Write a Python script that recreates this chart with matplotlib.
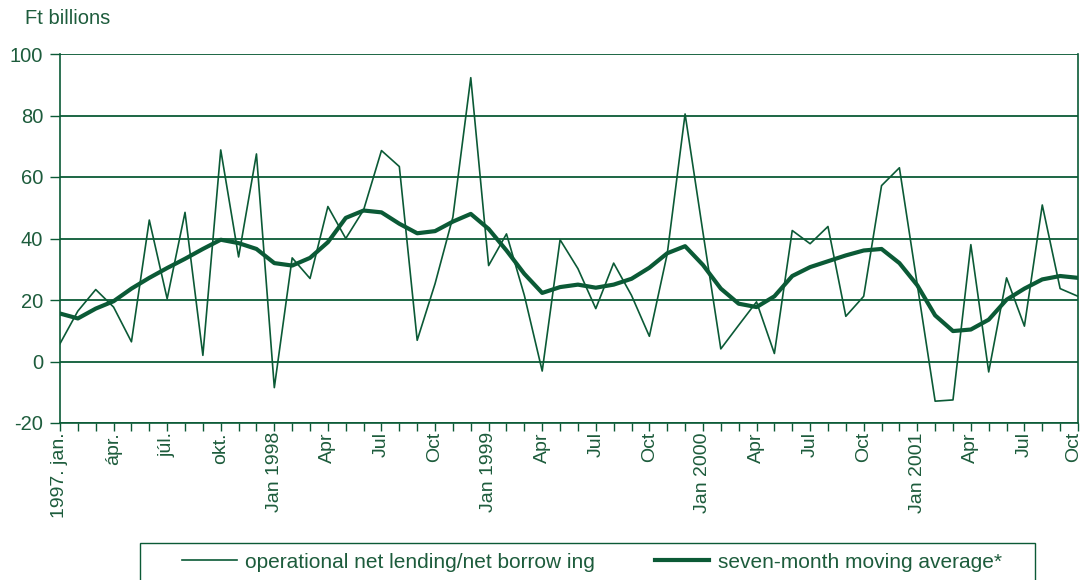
import numpy as np
import matplotlib
matplotlib.use('Agg')
import matplotlib.pyplot as plt
import matplotlib.transforms as mtransforms
from matplotlib.patches import Rectangle
from matplotlib.ticker import MultipleLocator

GREEN = '#0b5a36'
TEXT = '#1d5c3c'

# monthly values, 1997 jan - 2001 oct (Ft billions)
net_lending = [5.8, 16.4, 23.4, 17.7, 6.4, 46, 20.4, 48.5, 2, 68.8,
               34, 67.5, -8.5, 33.7, 27, 50.4, 40, 49.3, 68.6, 63.4,
               6.9, 25.3, 47, 92.3, 31.2, 41.5, 21.5, -3.1, 39.6, 30.2,
               17.2, 32, 21.5, 8.2, 35, 80.5, 42, 4.1, 11.8, 19.4,
               2.6, 42.6, 38.3, 43.9, 14.7, 21.2, 57.2, 63, 25, -12.9,
               -12.5, 38, -3.4, 27.2, 11.5, 50.9, 23.7, 21.2]
moving_avg = [15.6, 14, 17.2, 19.6, 23.7, 27.2, 30.4, 33.4, 36.6, 39.6,
              38.5, 36.6, 32, 31.2, 33.7, 38.8, 46.7, 49.1, 48.5, 44.8,
              41.7, 42.4, 45.5, 48, 43.1, 36.1, 28.5, 22.3, 24.2, 25,
              24, 25, 26.9, 30.5, 35.2, 37.5, 31.4, 23.7, 18.8, 17.7,
              21.2, 27.8, 30.7, 32.6, 34.5, 36.1, 36.6, 32, 24.8, 15,
              9.9, 10.4, 13.6, 20.1, 23.7, 26.7, 27.8, 27.2]
tick_labels = ['1997. jan.', 'ápr.', 'júl.', 'okt.',
               'Jan 1998', 'Apr', 'Jul', 'Oct',
               'Jan 1999', 'Apr', 'Jul', 'Oct',
               'Jan 2000', 'Apr', 'Jul', 'Oct',
               'Jan 2001', 'Apr', 'Jul', 'Oct']

plt.rcParams['font.family'] = ['Liberation Sans', 'DejaVu Sans']
plt.rcParams['axes.unicode_minus'] = False

fig = plt.figure(figsize=(10.84, 5.8), dpi=100)
ax = fig.add_axes([60/1084, 1 - 423/580, 1018/1084, 369/580])

x = np.arange(len(net_lending))
l1, = ax.plot(x, net_lending, color=GREEN, lw=1.2,
              label='operational net lending/net borrow ing')
l2, = ax.plot(x, moving_avg, color=GREEN, lw=3.0,
              label='seven-month moving average*')

ax.set_xlim(0, len(x) - 1)
ax.set_ylim(-20, 100)
ax.yaxis.set_major_locator(MultipleLocator(20))
ax.grid(axis='y', color=GREEN, lw=1.3)
ax.set_axisbelow(True)

ax.set_xticks(np.arange(0, len(x), 3))
ax.set_xticklabels(tick_labels, rotation=90, va='top', ha='center')
ax.set_xticks(x, minor=True)
ax.tick_params(axis='x', which='both', length=6, width=1, color=GREEN,
               labelsize=14, labelcolor=TEXT, pad=0.5)
ax.tick_params(axis='y', length=7, width=1, color=GREEN,
               labelsize=14.5, labelcolor=TEXT, pad=5)

# nudge the last label so it stays inside the picture
last = ax.get_xticklabels()[-1]
last.set_transform(last.get_transform() +
                   mtransforms.ScaledTranslation(-4/100, 0, fig.dpi_scale_trans))

for s in ['left', 'right', 'bottom']:
    ax.spines[s].set_color(GREEN)
    ax.spines[s].set_linewidth(1.2)
ax.spines['top'].set_visible(False)

fig.text(25/1084, 1 - 18/580, 'Ft billions', fontsize=14.5, color=TEXT,
         va='center', ha='left')

# legend frame runs off the bottom of the picture
fig.patches.append(Rectangle((140/1084, -0.05), 895/1084, 0.05 + 37/580,
                             transform=fig.transFigure, fill=False,
                             edgecolor=GREEN, lw=1, clip_on=False))
leg = fig.legend(handles=[l1, l2], loc='center left', ncol=2,
                 bbox_to_anchor=(172/1084, 1 - 562/580), frameon=False,
                 fontsize=15, handlelength=2.6, handletextpad=0.4,
                 columnspacing=2.9, borderpad=0)
for t in leg.get_texts():
    t.set_color(TEXT)

fig.savefig('out.png', dpi=100)
